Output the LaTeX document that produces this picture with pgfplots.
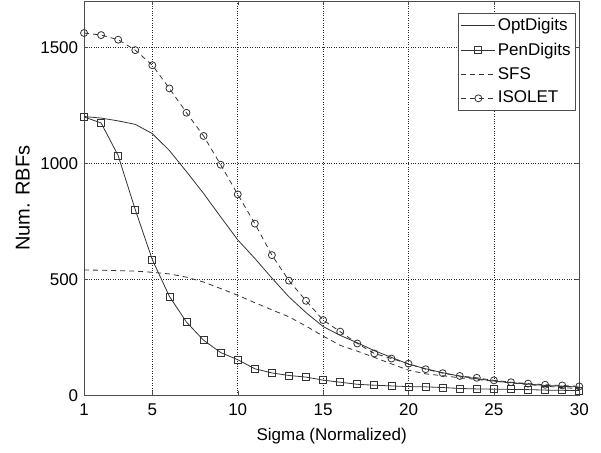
\documentclass[border=0pt]{standalone}
\usepackage{pgfplots}
\pgfplotsset{compat=1.18}
\usepackage{fontspec}
\setmainfont{Liberation Sans}

\pgfplotstableread{
x opt pen sfs iso
1 1202 1200 540 1562
2 1195 1174 539 1553
3 1183 1033 537 1533
4 1168 800 535 1488
5 1128 584 530 1423
6 1055 426 523 1323
7 964 315 509 1218
8 870 237 488 1118
9 769 184 460 994
10 670 153 431 866
11 590 114 399 740
12 505 96 368 604
13 424 85 338 494
14 356 78 298 407
15 296 65 255 324
16 258 56 215 274
17 226 47 190 223
18 192 43 163 180
19 163 40 135 158
20 134 37 108 136
21 114 36 92 112
22 97 33 84 95
23 82 29 75 83
24 71 27 68 75
25 61 26 60 64
26 54 25 53 56
27 48 24 46 50
28 42 22 39 45
29 39 21 33 42
30 35 20 28 38
}\data

\begin{document}
\fontsize{17}{20}\selectfont
\begin{tikzpicture}[font=\fontsize{17}{20}\selectfont]
\begin{axis}[
  scale only axis, width=495pt, height=394pt,
  xmin=1, xmax=30, ymin=0, ymax=1700,
  xtick={1,5,10,15,20,25,30}, ytick={0,500,1000,1500},
  grid=major, major grid style={dotted, black!85, line width=0.7pt},
  tick align=inside, major tick length=4pt,
  tick style={black!70},
  axis line style={black!70, line width=0.8pt},
  font=\fontsize{17}{20}\selectfont,
  every tick label/.append style={font=\fontsize{17}{20}\selectfont},
  xticklabel style={yshift=-3pt},
  xlabel style={font=\fontsize{17}{20}\selectfont, yshift=-1pt},
  ylabel style={font=\fontsize{20}{24}\selectfont, yshift=-1pt},
  /pgf/number format/assume math mode=true,
  /pgf/number format/1000 sep={},
  xlabel={Sigma (Normalized)}, ylabel={Num. RBFs},
  legend style={at={(0.9933,0.9695)}, anchor=north east,
    font=\fontsize{17}{20}\selectfont, draw=black!70, line width=0.8pt,
    inner xsep=3pt, inner ysep=3pt, row sep=5.5pt},
  legend cell align=left,
  legend image code/.code={\draw[mark repeat=2,mark phase=2,#1] plot coordinates {(0pt,0pt) (17pt,0pt) (34pt,0pt)};},
]
\addplot[black!80, line width=0.8pt, no markers] table[x=x,y=opt] {\data};
\addlegendentry{OptDigits}
\addplot[black!80, line width=0.8pt, mark=square, mark size=3.5pt, mark options={solid, fill=none}] table[x=x,y=pen] {\data};
\addlegendentry{PenDigits}
\addplot[black!80, line width=0.8pt, dash pattern=on 5pt off 4pt, no markers] table[x=x,y=sfs] {\data};
\addlegendentry{SFS}
\addplot[black!80, line width=0.8pt, dash pattern=on 5pt off 4pt, mark=o, mark size=3.5pt, mark options={solid, fill=none}] table[x=x,y=iso] {\data};
\addlegendentry{ISOLET}
\end{axis}
\path (current axis.south west) ++(-84pt,-57pt);
\path (current axis.north east) ++(21.7pt,1pt);
\end{tikzpicture}
\end{document}
